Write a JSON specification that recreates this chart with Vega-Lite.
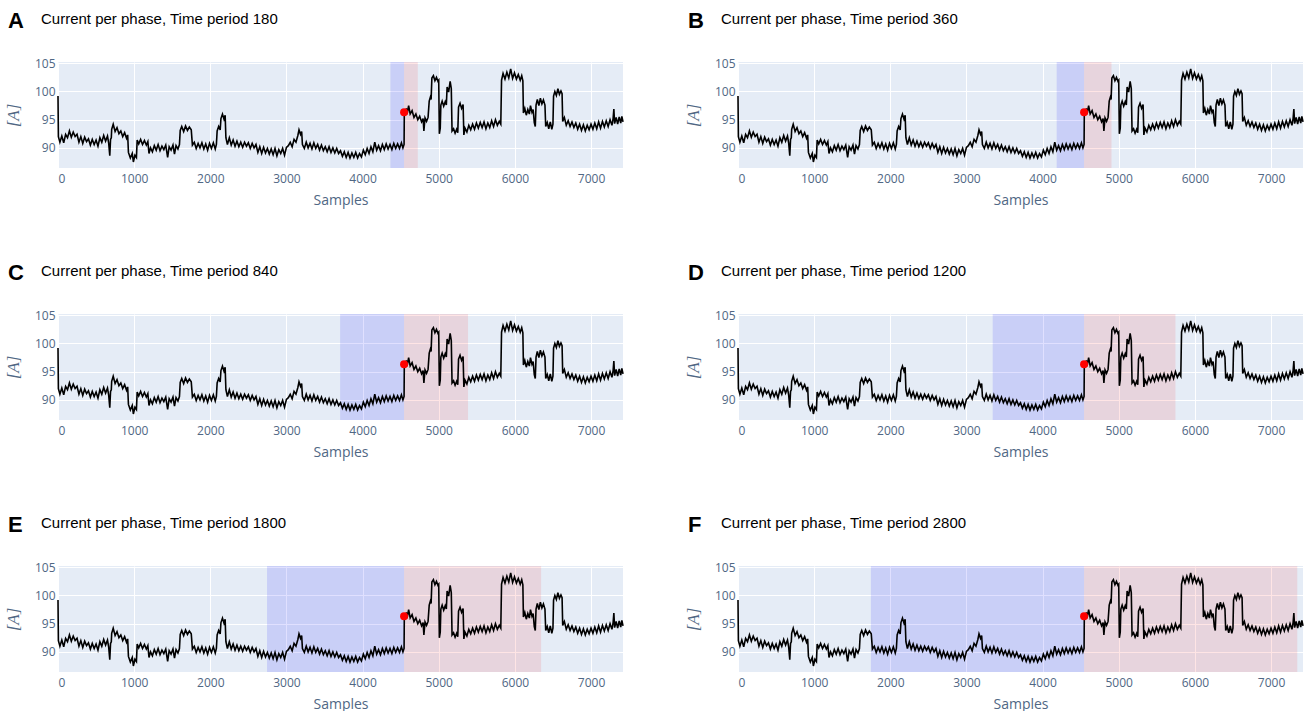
{
"$schema": "https://vega.github.io/schema/vega-lite/v6.json",
"padding": {"left": 4, "top": 10, "right": 0, "bottom": 0},
"config": {
 "view": {"fill": "#E5ECF6", "stroke": null},
 "font": "Open Sans",
 "axis": {"grid": true, "gridColor": "#ffffff", "gridWidth": 1, "domain": false, "ticks": false, "labelColor": "#506784", "labelFontSize": 12, "labelFont": "Open Sans", "titleColor": "#506784", "titleFontWeight": "normal", "titleFont": "Open Sans", "titleFontSize": 14},
 "title": {"anchor": "start", "frame": "group", "font": "Liberation Sans", "color": "#000000"}
},
"datasets": {
 "cur": [
{"sample":0,"current":99.2},{"sample":5,"current":92.0},{"sample":25,"current":91.0},{"sample":50,"current":92.1},{"sample":75,"current":90.9},{"sample":100,"current":92.4},{"sample":125,"current":91.8},{"sample":150,"current":93.0},{"sample":175,"current":91.9},{"sample":200,"current":92.8},{"sample":225,"current":92.0},{"sample":250,"current":92.4},{"sample":275,"current":91.0},{"sample":300,"current":92.0},{"sample":325,"current":90.8},{"sample":350,"current":91.9},{"sample":375,"current":91.1},{"sample":400,"current":91.6},{"sample":425,"current":90.5},{"sample":450,"current":91.5},{"sample":475,"current":90.6},{"sample":500,"current":91.4},{"sample":525,"current":90.3},{"sample":550,"current":91.8},{"sample":575,"current":91.0},{"sample":600,"current":92.2},{"sample":625,"current":91.2},{"sample":650,"current":92.1},{"sample":665,"current":90.9},{"sample":680,"current":88.6},{"sample":690,"current":91.5},{"sample":700,"current":91.8},{"sample":705,"current":93.3},{"sample":725,"current":94.2},{"sample":750,"current":92.9},{"sample":775,"current":93.6},{"sample":800,"current":92.5},{"sample":825,"current":93.0},{"sample":850,"current":92.0},{"sample":875,"current":92.7},{"sample":900,"current":91.7},{"sample":915,"current":92.3},{"sample":925,"current":89.2},{"sample":950,"current":88.2},{"sample":975,"current":89.0},{"sample":990,"current":87.5},{"sample":1010,"current":88.7},{"sample":1030,"current":88.3},{"sample":1040,"current":91.4},{"sample":1060,"current":90.7},{"sample":1085,"current":91.5},{"sample":1110,"current":90.6},{"sample":1135,"current":91.3},{"sample":1160,"current":90.5},{"sample":1180,"current":91.1},{"sample":1195,"current":89.0},{"sample":1215,"current":90.0},{"sample":1240,"current":89.3},{"sample":1265,"current":90.4},{"sample":1290,"current":89.6},{"sample":1315,"current":90.6},{"sample":1340,"current":89.5},{"sample":1365,"current":90.3},{"sample":1390,"current":89.7},{"sample":1415,"current":90.5},{"sample":1440,"current":88.3},{"sample":1460,"current":90.2},{"sample":1485,"current":89.6},{"sample":1510,"current":90.5},{"sample":1530,"current":88.9},{"sample":1550,"current":90.4},{"sample":1575,"current":89.8},{"sample":1595,"current":90.6},{"sample":1605,"current":93.1},{"sample":1625,"current":93.8},{"sample":1650,"current":92.9},{"sample":1675,"current":93.9},{"sample":1700,"current":93.1},{"sample":1725,"current":93.7},{"sample":1750,"current":93.2},{"sample":1765,"current":90.5},{"sample":1790,"current":91.0},{"sample":1815,"current":89.9},{"sample":1840,"current":90.8},{"sample":1865,"current":90.0},{"sample":1890,"current":90.9},{"sample":1915,"current":89.8},{"sample":1940,"current":90.7},{"sample":1965,"current":89.6},{"sample":1990,"current":90.8},{"sample":2015,"current":89.9},{"sample":2040,"current":90.9},{"sample":2065,"current":89.8},{"sample":2080,"current":90.6},{"sample":2090,"current":93.0},{"sample":2110,"current":93.8},{"sample":2130,"current":93.2},{"sample":2140,"current":95.2},{"sample":2160,"current":96.0},{"sample":2180,"current":95.1},{"sample":2195,"current":95.8},{"sample":2205,"current":91.8},{"sample":2225,"current":90.6},{"sample":2250,"current":91.8},{"sample":2275,"current":90.5},{"sample":2300,"current":91.4},{"sample":2325,"current":90.3},{"sample":2350,"current":91.2},{"sample":2375,"current":90.2},{"sample":2400,"current":91.0},{"sample":2425,"current":90.1},{"sample":2450,"current":91.0},{"sample":2475,"current":90.3},{"sample":2500,"current":90.9},{"sample":2525,"current":89.9},{"sample":2550,"current":90.8},{"sample":2575,"current":90.0},{"sample":2600,"current":90.6},{"sample":2625,"current":89.2},{"sample":2650,"current":90.2},{"sample":2675,"current":89.0},{"sample":2700,"current":90.1},{"sample":2725,"current":89.1},{"sample":2750,"current":89.9},{"sample":2775,"current":88.9},{"sample":2800,"current":89.8},{"sample":2825,"current":88.8},{"sample":2850,"current":89.9},{"sample":2875,"current":88.6},{"sample":2900,"current":89.7},{"sample":2925,"current":89.0},{"sample":2950,"current":89.9},{"sample":2975,"current":88.7},{"sample":3000,"current":90.1},{"sample":3025,"current":90.4},{"sample":3050,"current":91.0},{"sample":3075,"current":90.2},{"sample":3100,"current":91.5},{"sample":3125,"current":91.0},{"sample":3150,"current":92.2},{"sample":3165,"current":93.2},{"sample":3185,"current":92.4},{"sample":3200,"current":92.9},{"sample":3210,"current":90.6},{"sample":3235,"current":89.9},{"sample":3260,"current":91.0},{"sample":3285,"current":90.0},{"sample":3310,"current":90.8},{"sample":3335,"current":89.8},{"sample":3360,"current":90.9},{"sample":3385,"current":89.9},{"sample":3410,"current":90.6},{"sample":3435,"current":89.6},{"sample":3460,"current":90.5},{"sample":3485,"current":89.5},{"sample":3510,"current":90.2},{"sample":3535,"current":89.3},{"sample":3560,"current":90.2},{"sample":3585,"current":89.2},{"sample":3610,"current":90.0},{"sample":3635,"current":89.1},{"sample":3660,"current":89.9},{"sample":3685,"current":89.0},{"sample":3710,"current":89.5},{"sample":3735,"current":88.5},{"sample":3760,"current":89.3},{"sample":3785,"current":88.3},{"sample":3810,"current":89.2},{"sample":3835,"current":88.2},{"sample":3860,"current":89.1},{"sample":3885,"current":88.3},{"sample":3910,"current":89.2},{"sample":3935,"current":88.2},{"sample":3960,"current":89.0},{"sample":3985,"current":88.4},{"sample":4010,"current":89.6},{"sample":4035,"current":88.8},{"sample":4060,"current":89.9},{"sample":4085,"current":89.0},{"sample":4110,"current":90.2},{"sample":4135,"current":89.3},{"sample":4160,"current":91.0},{"sample":4185,"current":89.6},{"sample":4210,"current":90.4},{"sample":4235,"current":89.5},{"sample":4260,"current":90.6},{"sample":4285,"current":89.7},{"sample":4310,"current":90.7},{"sample":4335,"current":89.8},{"sample":4360,"current":90.6},{"sample":4385,"current":89.7},{"sample":4410,"current":90.8},{"sample":4435,"current":89.9},{"sample":4460,"current":90.7},{"sample":4485,"current":89.9},{"sample":4510,"current":90.9},{"sample":4530,"current":90.0},{"sample":4545,"current":90.6},{"sample":4548,"current":96.3},{"sample":4560,"current":95.8},{"sample":4575,"current":97.0},{"sample":4590,"current":96.4},{"sample":4605,"current":97.5},{"sample":4625,"current":96.0},{"sample":4650,"current":96.6},{"sample":4675,"current":95.4},{"sample":4700,"current":96.0},{"sample":4725,"current":95.0},{"sample":4750,"current":95.6},{"sample":4775,"current":94.6},{"sample":4795,"current":95.2},{"sample":4805,"current":93.0},{"sample":4820,"current":95.3},{"sample":4840,"current":94.7},{"sample":4860,"current":95.4},{"sample":4875,"current":98.3},{"sample":4890,"current":99.0},{"sample":4900,"current":98.6},{"sample":4910,"current":102.4},{"sample":4930,"current":102.8},{"sample":4950,"current":101.9},{"sample":4970,"current":102.5},{"sample":4990,"current":101.8},{"sample":5000,"current":102.0},{"sample":5008,"current":92.5},{"sample":5020,"current":93.5},{"sample":5028,"current":97.6},{"sample":5045,"current":98.3},{"sample":5065,"current":97.4},{"sample":5085,"current":98.2},{"sample":5100,"current":97.6},{"sample":5110,"current":100.8},{"sample":5130,"current":99.9},{"sample":5150,"current":101.8},{"sample":5165,"current":100.5},{"sample":5175,"current":93.0},{"sample":5195,"current":93.4},{"sample":5215,"current":92.6},{"sample":5235,"current":93.3},{"sample":5250,"current":92.7},{"sample":5260,"current":97.2},{"sample":5280,"current":97.9},{"sample":5300,"current":97.0},{"sample":5320,"current":97.7},{"sample":5330,"current":92.3},{"sample":5345,"current":93.5},{"sample":5370,"current":92.8},{"sample":5395,"current":94.0},{"sample":5420,"current":93.2},{"sample":5445,"current":94.2},{"sample":5470,"current":93.3},{"sample":5495,"current":94.4},{"sample":5520,"current":93.5},{"sample":5545,"current":94.5},{"sample":5570,"current":93.6},{"sample":5595,"current":94.6},{"sample":5620,"current":93.4},{"sample":5645,"current":94.4},{"sample":5670,"current":93.6},{"sample":5695,"current":94.8},{"sample":5720,"current":93.8},{"sample":5745,"current":95.0},{"sample":5770,"current":94.0},{"sample":5795,"current":94.7},{"sample":5815,"current":94.2},{"sample":5825,"current":102.0},{"sample":5845,"current":103.2},{"sample":5870,"current":102.2},{"sample":5895,"current":103.4},{"sample":5920,"current":102.4},{"sample":5945,"current":104.0},{"sample":5970,"current":102.3},{"sample":5995,"current":103.3},{"sample":6020,"current":102.2},{"sample":6045,"current":103.0},{"sample":6070,"current":102.0},{"sample":6090,"current":102.8},{"sample":6105,"current":101.9},{"sample":6112,"current":96.2},{"sample":6130,"current":97.0},{"sample":6150,"current":95.8},{"sample":6170,"current":96.8},{"sample":6190,"current":96.0},{"sample":6205,"current":97.5},{"sample":6225,"current":96.3},{"sample":6240,"current":96.8},{"sample":6255,"current":94.5},{"sample":6268,"current":93.8},{"sample":6278,"current":97.6},{"sample":6295,"current":98.6},{"sample":6315,"current":97.5},{"sample":6335,"current":98.8},{"sample":6355,"current":97.8},{"sample":6375,"current":98.5},{"sample":6395,"current":97.6},{"sample":6405,"current":93.8},{"sample":6425,"current":94.5},{"sample":6445,"current":93.4},{"sample":6465,"current":94.6},{"sample":6485,"current":93.3},{"sample":6500,"current":94.2},{"sample":6508,"current":99.2},{"sample":6525,"current":100.0},{"sample":6545,"current":99.3},{"sample":6565,"current":100.5},{"sample":6585,"current":99.5},{"sample":6605,"current":100.1},{"sample":6620,"current":99.6},{"sample":6628,"current":94.7},{"sample":6650,"current":95.4},{"sample":6675,"current":94.0},{"sample":6700,"current":94.8},{"sample":6725,"current":93.8},{"sample":6750,"current":94.6},{"sample":6775,"current":93.6},{"sample":6800,"current":94.4},{"sample":6825,"current":93.3},{"sample":6850,"current":94.2},{"sample":6875,"current":93.1},{"sample":6900,"current":94.1},{"sample":6925,"current":93.0},{"sample":6950,"current":94.0},{"sample":6975,"current":93.2},{"sample":7000,"current":94.2},{"sample":7025,"current":93.3},{"sample":7050,"current":94.4},{"sample":7075,"current":93.4},{"sample":7100,"current":94.6},{"sample":7125,"current":93.5},{"sample":7150,"current":94.7},{"sample":7175,"current":93.7},{"sample":7200,"current":94.8},{"sample":7225,"current":93.8},{"sample":7250,"current":95.0},{"sample":7275,"current":94.0},{"sample":7290,"current":95.2},{"sample":7300,"current":96.9},{"sample":7310,"current":94.3},{"sample":7330,"current":95.4},{"sample":7350,"current":94.2},{"sample":7370,"current":95.5},{"sample":7390,"current":94.4},{"sample":7405,"current":95.6},{"sample":7420,"current":94.6}
 ]
},
"columns": 2,
"spacing": {"row": 55, "column": 57},
"concat": [
 {"title": {"text": "A", "fontSize": 22, "fontWeight": "bold", "dx": -50, "offset": -21},
  "vconcat": [
 {"width": 565, "height": 106,
  "title": {"text": "Current per phase, Time period 180", "fontSize": 15, "fontWeight": "normal", "dx": -17, "offset": 30},
  "encoding": {"x": {"field": "sample", "type": "quantitative", "scale": {"domain": [0, 7420], "nice": false, "zero": false}, "axis": {"title": "Samples", "format": "d", "values": [0,1000,2000,3000,4000,5000,6000,7000], "labelPadding": 5, "titlePadding": 9}}},
  "layer": [
   {"data": {"values": [{"sample": 4365, "end": 4545, "kind": "before"}, {"sample": 4545, "end": 4725, "kind": "after"}]}, "mark": {"type": "rect"}, "encoding": {"x2": {"field": "end"}, "color": {"field": "kind", "type": "nominal", "scale": {"domain": ["before", "after"], "range": ["rgba(0,0,255,0.12)", "rgba(255,0,0,0.1)"]}, "legend": null}}},
   {"data": {"name": "cur"}, "mark": {"type": "line", "color": "#000000", "strokeWidth": 1.6}, "encoding": {"y": {"field": "current", "type": "quantitative", "scale": {"domain": [86.43, 105.23], "nice": false, "zero": false}, "axis": {"title": "[A]", "values": [90, 95, 100, 105], "labelPadding": 3, "titlePadding": 12, "titleFont": "Liberation Serif", "titleFontStyle": "italic", "titleFontSize": 17}}}},
   {"data": {"values": [{"sample": 4545, "current": 96.3}]}, "mark": {"type": "point", "filled": true, "color": "#ff0000", "size": 64, "opacity": 1}, "encoding": {"y": {"field": "current", "type": "quantitative", "scale": {"domain": [86.43, 105.23], "nice": false, "zero": false}, "axis": {"title": "[A]", "values": [90, 95, 100, 105], "labelPadding": 3, "titlePadding": 12, "titleFont": "Liberation Serif", "titleFontStyle": "italic", "titleFontSize": 17}}}}
  ]}]},
 {"title": {"text": "B", "fontSize": 22, "fontWeight": "bold", "dx": -50, "offset": -21},
  "vconcat": [
 {"width": 565, "height": 106,
  "title": {"text": "Current per phase, Time period 360", "fontSize": 15, "fontWeight": "normal", "dx": -17, "offset": 30},
  "encoding": {"x": {"field": "sample", "type": "quantitative", "scale": {"domain": [0, 7420], "nice": false, "zero": false}, "axis": {"title": "Samples", "format": "d", "values": [0,1000,2000,3000,4000,5000,6000,7000], "labelPadding": 5, "titlePadding": 9}}},
  "layer": [
   {"data": {"values": [{"sample": 4185, "end": 4545, "kind": "before"}, {"sample": 4545, "end": 4905, "kind": "after"}]}, "mark": {"type": "rect"}, "encoding": {"x2": {"field": "end"}, "color": {"field": "kind", "type": "nominal", "scale": {"domain": ["before", "after"], "range": ["rgba(0,0,255,0.12)", "rgba(255,0,0,0.1)"]}, "legend": null}}},
   {"data": {"name": "cur"}, "mark": {"type": "line", "color": "#000000", "strokeWidth": 1.6}, "encoding": {"y": {"field": "current", "type": "quantitative", "scale": {"domain": [86.43, 105.23], "nice": false, "zero": false}, "axis": {"title": "[A]", "values": [90, 95, 100, 105], "labelPadding": 3, "titlePadding": 12, "titleFont": "Liberation Serif", "titleFontStyle": "italic", "titleFontSize": 17}}}},
   {"data": {"values": [{"sample": 4545, "current": 96.3}]}, "mark": {"type": "point", "filled": true, "color": "#ff0000", "size": 64, "opacity": 1}, "encoding": {"y": {"field": "current", "type": "quantitative", "scale": {"domain": [86.43, 105.23], "nice": false, "zero": false}, "axis": {"title": "[A]", "values": [90, 95, 100, 105], "labelPadding": 3, "titlePadding": 12, "titleFont": "Liberation Serif", "titleFontStyle": "italic", "titleFontSize": 17}}}}
  ]}]},
 {"title": {"text": "C", "fontSize": 22, "fontWeight": "bold", "dx": -50, "offset": -21},
  "vconcat": [
 {"width": 565, "height": 106,
  "title": {"text": "Current per phase, Time period 840", "fontSize": 15, "fontWeight": "normal", "dx": -17, "offset": 30},
  "encoding": {"x": {"field": "sample", "type": "quantitative", "scale": {"domain": [0, 7420], "nice": false, "zero": false}, "axis": {"title": "Samples", "format": "d", "values": [0,1000,2000,3000,4000,5000,6000,7000], "labelPadding": 5, "titlePadding": 9}}},
  "layer": [
   {"data": {"values": [{"sample": 3705, "end": 4545, "kind": "before"}, {"sample": 4545, "end": 5385, "kind": "after"}]}, "mark": {"type": "rect"}, "encoding": {"x2": {"field": "end"}, "color": {"field": "kind", "type": "nominal", "scale": {"domain": ["before", "after"], "range": ["rgba(0,0,255,0.12)", "rgba(255,0,0,0.1)"]}, "legend": null}}},
   {"data": {"name": "cur"}, "mark": {"type": "line", "color": "#000000", "strokeWidth": 1.6}, "encoding": {"y": {"field": "current", "type": "quantitative", "scale": {"domain": [86.43, 105.23], "nice": false, "zero": false}, "axis": {"title": "[A]", "values": [90, 95, 100, 105], "labelPadding": 3, "titlePadding": 12, "titleFont": "Liberation Serif", "titleFontStyle": "italic", "titleFontSize": 17}}}},
   {"data": {"values": [{"sample": 4545, "current": 96.3}]}, "mark": {"type": "point", "filled": true, "color": "#ff0000", "size": 64, "opacity": 1}, "encoding": {"y": {"field": "current", "type": "quantitative", "scale": {"domain": [86.43, 105.23], "nice": false, "zero": false}, "axis": {"title": "[A]", "values": [90, 95, 100, 105], "labelPadding": 3, "titlePadding": 12, "titleFont": "Liberation Serif", "titleFontStyle": "italic", "titleFontSize": 17}}}}
  ]}]},
 {"title": {"text": "D", "fontSize": 22, "fontWeight": "bold", "dx": -50, "offset": -21},
  "vconcat": [
 {"width": 565, "height": 106,
  "title": {"text": "Current per phase, Time period 1200", "fontSize": 15, "fontWeight": "normal", "dx": -17, "offset": 30},
  "encoding": {"x": {"field": "sample", "type": "quantitative", "scale": {"domain": [0, 7420], "nice": false, "zero": false}, "axis": {"title": "Samples", "format": "d", "values": [0,1000,2000,3000,4000,5000,6000,7000], "labelPadding": 5, "titlePadding": 9}}},
  "layer": [
   {"data": {"values": [{"sample": 3345, "end": 4545, "kind": "before"}, {"sample": 4545, "end": 5745, "kind": "after"}]}, "mark": {"type": "rect"}, "encoding": {"x2": {"field": "end"}, "color": {"field": "kind", "type": "nominal", "scale": {"domain": ["before", "after"], "range": ["rgba(0,0,255,0.12)", "rgba(255,0,0,0.1)"]}, "legend": null}}},
   {"data": {"name": "cur"}, "mark": {"type": "line", "color": "#000000", "strokeWidth": 1.6}, "encoding": {"y": {"field": "current", "type": "quantitative", "scale": {"domain": [86.43, 105.23], "nice": false, "zero": false}, "axis": {"title": "[A]", "values": [90, 95, 100, 105], "labelPadding": 3, "titlePadding": 12, "titleFont": "Liberation Serif", "titleFontStyle": "italic", "titleFontSize": 17}}}},
   {"data": {"values": [{"sample": 4545, "current": 96.3}]}, "mark": {"type": "point", "filled": true, "color": "#ff0000", "size": 64, "opacity": 1}, "encoding": {"y": {"field": "current", "type": "quantitative", "scale": {"domain": [86.43, 105.23], "nice": false, "zero": false}, "axis": {"title": "[A]", "values": [90, 95, 100, 105], "labelPadding": 3, "titlePadding": 12, "titleFont": "Liberation Serif", "titleFontStyle": "italic", "titleFontSize": 17}}}}
  ]}]},
 {"title": {"text": "E", "fontSize": 22, "fontWeight": "bold", "dx": -50, "offset": -21},
  "vconcat": [
 {"width": 565, "height": 106,
  "title": {"text": "Current per phase, Time period 1800", "fontSize": 15, "fontWeight": "normal", "dx": -17, "offset": 30},
  "encoding": {"x": {"field": "sample", "type": "quantitative", "scale": {"domain": [0, 7420], "nice": false, "zero": false}, "axis": {"title": "Samples", "format": "d", "values": [0,1000,2000,3000,4000,5000,6000,7000], "labelPadding": 5, "titlePadding": 9}}},
  "layer": [
   {"data": {"values": [{"sample": 2745, "end": 4545, "kind": "before"}, {"sample": 4545, "end": 6345, "kind": "after"}]}, "mark": {"type": "rect"}, "encoding": {"x2": {"field": "end"}, "color": {"field": "kind", "type": "nominal", "scale": {"domain": ["before", "after"], "range": ["rgba(0,0,255,0.12)", "rgba(255,0,0,0.1)"]}, "legend": null}}},
   {"data": {"name": "cur"}, "mark": {"type": "line", "color": "#000000", "strokeWidth": 1.6}, "encoding": {"y": {"field": "current", "type": "quantitative", "scale": {"domain": [86.43, 105.23], "nice": false, "zero": false}, "axis": {"title": "[A]", "values": [90, 95, 100, 105], "labelPadding": 3, "titlePadding": 12, "titleFont": "Liberation Serif", "titleFontStyle": "italic", "titleFontSize": 17}}}},
   {"data": {"values": [{"sample": 4545, "current": 96.3}]}, "mark": {"type": "point", "filled": true, "color": "#ff0000", "size": 64, "opacity": 1}, "encoding": {"y": {"field": "current", "type": "quantitative", "scale": {"domain": [86.43, 105.23], "nice": false, "zero": false}, "axis": {"title": "[A]", "values": [90, 95, 100, 105], "labelPadding": 3, "titlePadding": 12, "titleFont": "Liberation Serif", "titleFontStyle": "italic", "titleFontSize": 17}}}}
  ]}]},
 {"title": {"text": "F", "fontSize": 22, "fontWeight": "bold", "dx": -50, "offset": -21},
  "vconcat": [
 {"width": 565, "height": 106,
  "title": {"text": "Current per phase, Time period 2800", "fontSize": 15, "fontWeight": "normal", "dx": -17, "offset": 30},
  "encoding": {"x": {"field": "sample", "type": "quantitative", "scale": {"domain": [0, 7420], "nice": false, "zero": false}, "axis": {"title": "Samples", "format": "d", "values": [0,1000,2000,3000,4000,5000,6000,7000], "labelPadding": 5, "titlePadding": 9}}},
  "layer": [
   {"data": {"values": [{"sample": 1745, "end": 4545, "kind": "before"}, {"sample": 4545, "end": 7345, "kind": "after"}]}, "mark": {"type": "rect"}, "encoding": {"x2": {"field": "end"}, "color": {"field": "kind", "type": "nominal", "scale": {"domain": ["before", "after"], "range": ["rgba(0,0,255,0.12)", "rgba(255,0,0,0.1)"]}, "legend": null}}},
   {"data": {"name": "cur"}, "mark": {"type": "line", "color": "#000000", "strokeWidth": 1.6}, "encoding": {"y": {"field": "current", "type": "quantitative", "scale": {"domain": [86.43, 105.23], "nice": false, "zero": false}, "axis": {"title": "[A]", "values": [90, 95, 100, 105], "labelPadding": 3, "titlePadding": 12, "titleFont": "Liberation Serif", "titleFontStyle": "italic", "titleFontSize": 17}}}},
   {"data": {"values": [{"sample": 4545, "current": 96.3}]}, "mark": {"type": "point", "filled": true, "color": "#ff0000", "size": 64, "opacity": 1}, "encoding": {"y": {"field": "current", "type": "quantitative", "scale": {"domain": [86.43, 105.23], "nice": false, "zero": false}, "axis": {"title": "[A]", "values": [90, 95, 100, 105], "labelPadding": 3, "titlePadding": 12, "titleFont": "Liberation Serif", "titleFontStyle": "italic", "titleFontSize": 17}}}}
  ]}]}
]
}
